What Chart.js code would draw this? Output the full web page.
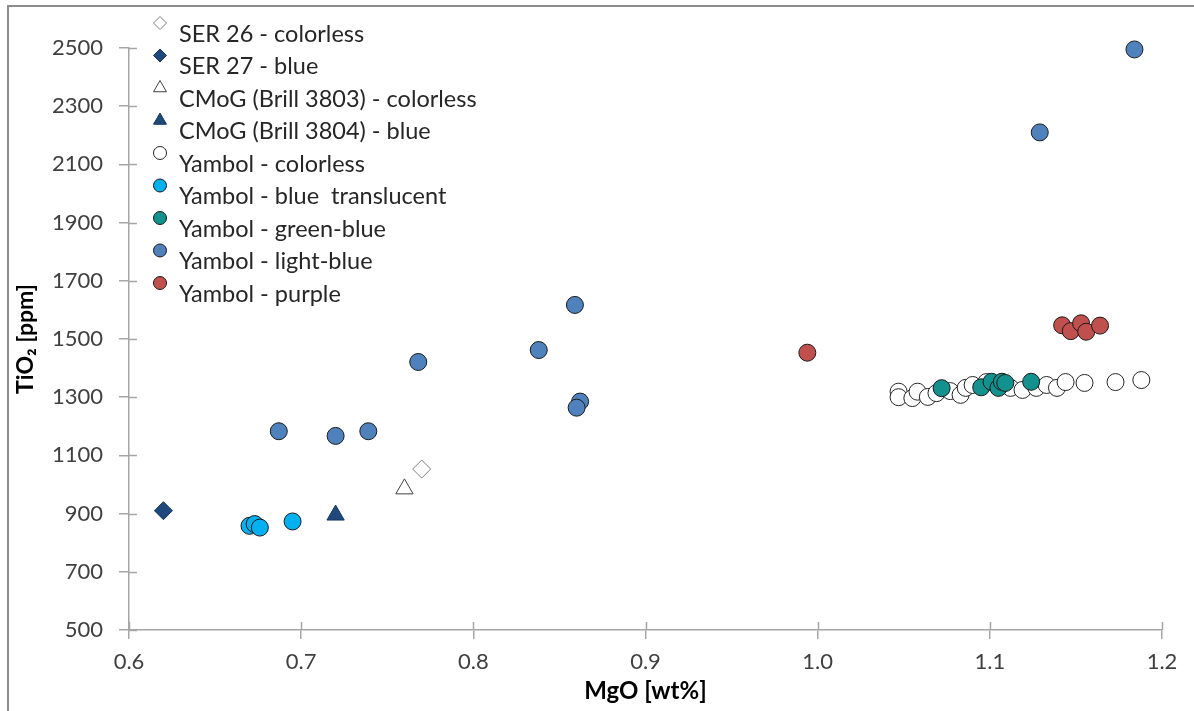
<!DOCTYPE html>
<html>
<head>
<meta charset="utf-8">
<script src="https://cdn.jsdelivr.net/npm/chart.js@4/dist/chart.umd.min.js"></script>
<style>
  html, body { margin: 0; padding: 0; background: #fff; overflow: hidden; }
  #wrap { position: relative; width: 1194px; height: 711px; }
  #frame { position: absolute; left: 7px; top: 5px; width: 1400px; height: 900px;
           border: 2px solid #8c8c8c; pointer-events: none; }
</style>
</head>
<body>
<div id="wrap">
  <canvas id="chart" width="1194" height="711"></canvas>
  <div id="frame"></div>
</div>
<script>
const categories = [
  "SER 26 - colorless",
  "SER 27 - blue",
  "CMoG (Brill 3803) - colorless",
  "CMoG (Brill 3804) - blue",
  "Yambol - colorless",
  "Yambol - blue  translucent",
  "Yambol - green-blue",
  "Yambol - light-blue",
  "Yambol - purple"
];

// MgO [wt%] / TiO2 [ppm] per series
const ser26MgO = [0.77];
const ser26TiO2 = [1053];
const ser27MgO = [0.62];
const ser27TiO2 = [910];
const cmog3803MgO = [0.76];
const cmog3803TiO2 = [985];
const cmog3804MgO = [0.72];
const cmog3804TiO2 = [895];
const colorlessMgO = [1.047, 1.047, 1.055, 1.058, 1.064, 1.069, 1.077, 1.083, 1.086, 1.090,
                      1.098, 1.112, 1.119, 1.127, 1.133, 1.139, 1.144, 1.155, 1.173, 1.188];
const colorlessTiO2 = [1319, 1300, 1297, 1319, 1301, 1314, 1321, 1308, 1332, 1342,
                       1352, 1332, 1325, 1332, 1342, 1332, 1352, 1349, 1352, 1359];
const translucentMgO = [0.670, 0.673, 0.676, 0.695];
const translucentTiO2 = [858, 864, 852, 873];
const greenBlueMgO = [1.072, 1.095, 1.101, 1.105, 1.107, 1.109, 1.124];
const greenBlueTiO2 = [1331, 1334, 1353, 1332, 1353, 1349, 1353];
const lightBlueMgO = [0.687, 0.720, 0.739, 0.768, 0.838, 0.859, 0.862, 0.860, 1.129, 1.184];
const lightBlueTiO2 = [1183, 1167, 1183, 1421, 1462, 1617, 1285, 1264, 2210, 2495];
const purpleMgO = [0.994, 1.142, 1.147, 1.153, 1.156, 1.164];
const purpleTiO2 = [1453, 1547, 1527, 1554, 1525, 1546];

const xTicks = [0.6, 0.7, 0.8, 0.9, 1.0, 1.1, 1.2];
const yTicks = [500, 700, 900, 1100, 1300, 1500, 1700, 1900, 2100, 2300, 2500];

const seriesX = [ser26MgO, ser27MgO, cmog3803MgO, cmog3804MgO, colorlessMgO,
                 translucentMgO, greenBlueMgO, lightBlueMgO, purpleMgO];
const seriesY = [ser26TiO2, ser27TiO2, cmog3803TiO2, cmog3804TiO2, colorlessTiO2,
                 translucentTiO2, greenBlueTiO2, lightBlueTiO2, purpleTiO2];

const styles = [
  { shape: "rectRot", fill: "#ffffff", line: "#808080", r: 9, lr: 6.5 },
  { shape: "rectRot", fill: "#1f497d", line: "#17375e", r: 9, lr: 6.5 },
  { shape: "triangle", fill: "#ffffff", line: "#404040", r: 10, lr: 7.5 },
  { shape: "triangle", fill: "#1f497d", line: "#17375e", r: 10, lr: 7.5 },
  { shape: "circle", fill: "#ffffff", line: "#262626", r: 8.5, lr: 6.5 },
  { shape: "circle", fill: "#00b0f0", line: "#1a1a1a", r: 8.5, lr: 6.5 },
  { shape: "circle", fill: "#12918e", line: "#1a1a1a", r: 8.5, lr: 6.5 },
  { shape: "circle", fill: "#4f81bd", line: "#1a1a1a", r: 8.5, lr: 6.5 },
  { shape: "circle", fill: "#c0504d", line: "#1a1a1a", r: 8.5, lr: 6.5 }
];

const FONT = "Lato, 'Open Sans', sans-serif";
const axisColor = "#a6a6a6";

const datasets = categories.map((name, i) => ({
  label: name,
  data: seriesX[i].map((x, j) => ({ x: x, y: seriesY[i][j] })),
  pointStyle: styles[i].shape,
  pointRadius: styles[i].r,
  pointHoverRadius: styles[i].r,
  pointBackgroundColor: styles[i].fill,
  pointBorderColor: styles[i].line,
  pointBorderWidth: 1,
  showLine: false,
  clip: false,
  order: -i
}));

// legend drawn the Excel way: marker sits up and left of its text
const excelLegend = {
  id: "excelLegend",
  afterDraw(chart) {
    const ctx = chart.ctx;
    ctx.save();
    ctx.font = "23.5px " + FONT;
    ctx.textBaseline = "middle";
    ctx.textAlign = "left";
    chart.data.datasets.forEach((ds, i) => {
      const ty = 34 + i * 32.5;
      ctx.fillStyle = styles[i].fill;
      ctx.strokeStyle = styles[i].line;
      ctx.lineWidth = 1;
      Chart.helpers.drawPoint(ctx, { pointStyle: ds.pointStyle, radius: styles[i].lr, rotation: 0, borderWidth: 1 }, 160, ty - 11);
      ctx.fillStyle = "#262626";
      ctx.fillText(ds.label, 179, ty);
    });
    ctx.restore();
  }
};

// Excel style "cross" tick marks: the part inside the plot area
const innerTicks = {
  id: "innerTicks",
  afterDraw(chart) {
    const ctx = chart.ctx;
    const xs = chart.scales.x, ys = chart.scales.y;
    ctx.save();
    ctx.strokeStyle = axisColor;
    ctx.lineWidth = 1.5;
    ctx.beginPath();
    xTicks.forEach(v => {
      const px = Math.round(xs.getPixelForValue(v)) + 0.5;
      ctx.moveTo(px, ys.bottom);
      ctx.lineTo(px, ys.bottom - 8);
    });
    yTicks.forEach(v => {
      const py = Math.round(ys.getPixelForValue(v)) + 0.5;
      ctx.moveTo(xs.left, py);
      ctx.lineTo(xs.left + 8, py);
    });
    ctx.stroke();
    ctx.restore();
  }
};

new Chart(document.getElementById("chart"), {
  type: "scatter",
  data: { datasets: datasets },
  options: {
    responsive: false,
    animation: false,
    layout: { padding: { left: 10, right: 32, top: 48, bottom: 0 } },
    plugins: {
      legend: { display: false },
      tooltip: { enabled: false }
    },
    scales: {
      x: {
        type: "linear",
        min: 0.6,
        max: 1.2,
        afterBuildTicks: s => { s.ticks = xTicks.map(v => ({ value: v })); },
        afterFit: s => { s.height = 81; },
        grid: { drawOnChartArea: false, drawTicks: true, tickLength: 9, color: axisColor, lineWidth: 1.5 },
        border: { color: axisColor, width: 1.5 },
        ticks: {
          padding: 10,
          color: "#404040",
          font: { family: FONT, size: 22 },
          callback: v => Number(v).toFixed(1)
        },
        title: {
          display: true,
          text: "MgO [wt%]",
          color: "#000",
          font: { family: FONT, size: 24, weight: "bold" },
          padding: { top: 0, bottom: 5 }
        }
      },
      y: {
        type: "linear",
        min: 500,
        max: 2500,
        afterBuildTicks: s => { s.ticks = yTicks.map(v => ({ value: v })); },
        afterFit: s => { s.width = 119; },
        grid: { drawOnChartArea: false, drawTicks: true, tickLength: 10, color: axisColor, lineWidth: 1.5 },
        border: { color: axisColor, width: 1.5 },
        ticks: {
          padding: 16,
          color: "#404040",
          font: { family: FONT, size: 22 },
          callback: v => String(v)
        },
        title: {
          display: true,
          text: "TiO\u2082 [ppm]",
          color: "#000",
          font: { family: FONT, size: 23, weight: "bold" },
          padding: { top: 2, bottom: 0 }
        }
      }
    }
  },
  plugins: [innerTicks, excelLegend]
});
</script>
</body>
</html>
